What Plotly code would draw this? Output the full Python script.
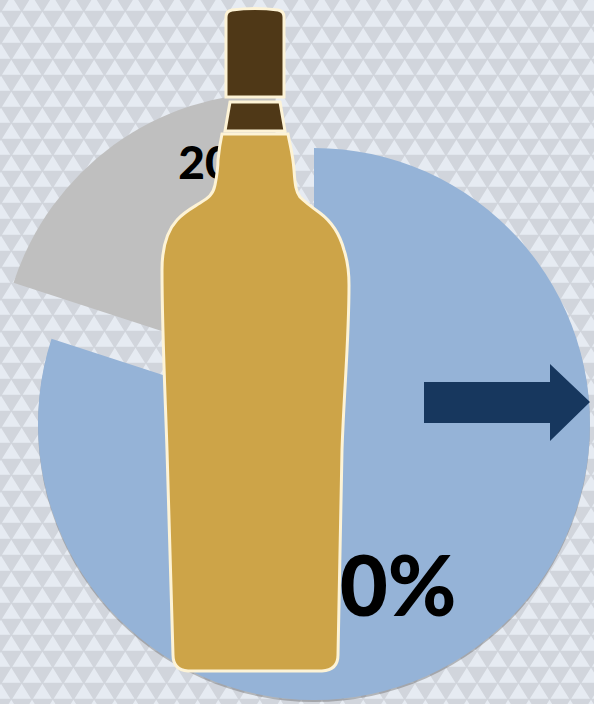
import plotly.graph_objects as go

W, H = 594, 704
CATEGORIES = ["Blue share", "Gray share"]
SHARE_VALUES = [80, 20]
BG_DARK = "#d1d5dc"
BG_LIGHT = "#e6ebf2"
BLUE = "#95b3d7"
GRAY = "#bfbfbf"
GOLD = "#cda448"
CORK = "#4f3817"
CREAM = "#fdf3d6"
NAVY = "#17375e"
SHADOW = "rgba(80,80,80,0.35)"
CLEAR = "rgba(0,0,0,0)"
FONT = "Lato"

def box(x0, y0, x1, y1):
    return dict(x=[x0 / W, x1 / W], y=[1 - y1 / H, 1 - y0 / H])

def slice_pie(domain, colors):
    return go.Pie(labels=CATEGORIES, values=SHARE_VALUES, sort=False, direction="clockwise",
                  rotation=0, domain=domain, textinfo="none", hoverinfo="skip",
                  marker=dict(colors=colors, line=dict(width=0)), showlegend=False)

def label_pie(i, domain, size):
    # full-circle transparent pie carrying a value label, so the bottle can cover it
    return go.Pie(labels=[CATEGORIES[i]], values=[SHARE_VALUES[i]], domain=domain,
                  texttemplate="%{value}%", textposition="inside", hoverinfo="skip", showlegend=False,
                  insidetextfont=dict(family=FONT, size=size, color="black", weight=900),
                  marker=dict(colors=[CLEAR], line=dict(width=0)))

fig = go.Figure()
fig.add_trace(slice_pie(box(38, 150, 590, 702), [SHADOW, CLEAR]))
fig.add_trace(slice_pie(box(38, 148, 590, 700), [BLUE, CLEAR]))
fig.add_trace(slice_pie(box(0, 92.5, 551, 643.5), [CLEAR, GRAY]))
fig.add_trace(label_pie(0, box(264, 474, 484, 694), 83))
fig.add_trace(label_pie(1, box(154, 91, 294, 231), 46))

# background triangle pattern
PX, PY = 20.7, 16
tri = []
for r in range(-1, 46):
    off = 1 if r % 2 == 0 else 1 + PX / 2
    y0 = 11.7 + r * PY
    for c in range(-1, 30):
        x = c * PX + off
        tri.append(f"M{x:.1f},{y0:.1f}L{x + PX / 2 - 1:.1f},{y0 + 15:.1f}L{x - PX / 2 + 1:.1f},{y0 + 15:.1f}Z")
shapes = [dict(type="rect", xref="x", yref="y", x0=0, x1=W, y0=0, y1=H, fillcolor=BG_DARK, line_width=0, layer="below"),
          dict(type="path", xref="x", yref="y", path="".join(tri), fillcolor=BG_LIGHT, line_width=0, layer="below")]

arrow = "M424,382 L550,382 L550,364 L590,402 L550,441 L550,423 L424,423 Z"
cork = "M226,17 Q226,11 232,10 Q255,7 278,10 Q284,11 284,17 L284,97 L226,97 Z"
band = "M230,102 L280,102 L285,131 L225,131 Z"
body = ("M222,134 L288,134 C290,145 293,155 294,170 C295,185 296,192 300,197 C306,203 313,208 320,213 "
        "C332,222 340,235 344,250 C348,262 349,270 349,285 C349,340 344,390 342,450 L338,655 Q338,670 322,671 "
        "L188,671 Q173,670 173,655 L167,450 C165,390 162,330 162,270 C162,250 166,232 177,220 "
        "C184,212 192,208 200,203 C208,198 213,195 215,185 C217,175 218,165 218,160 C219,150 220,143 222,134 Z")
for p, c in [(arrow, NAVY), (body, GOLD), (band, CORK), (cork, CORK)]:
    shapes.append(dict(type="path", xref="x", yref="y", path=p, fillcolor=c, layer="above",
                       line=dict(color=CREAM if c != NAVY else NAVY, width=3 if c != NAVY else 0)))

fig.update_layout(width=W, height=H, margin=dict(l=0, r=0, t=0, b=0), showlegend=False,
                  paper_bgcolor=BG_DARK, plot_bgcolor=BG_DARK, shapes=shapes,
                  xaxis=dict(range=[0, W], visible=False, fixedrange=True, domain=[0, 1]),
                  yaxis=dict(range=[H, 0], visible=False, fixedrange=True, domain=[0, 1]))
fig.add_trace(go.Scatter(x=[0], y=[0], mode="markers", marker=dict(opacity=0), hoverinfo="skip", showlegend=False))
fig.write_html("out.html", config=dict(displayModeBar=False),
               post_script="document.body.style.margin='0';document.documentElement.style.overflow='hidden';")
